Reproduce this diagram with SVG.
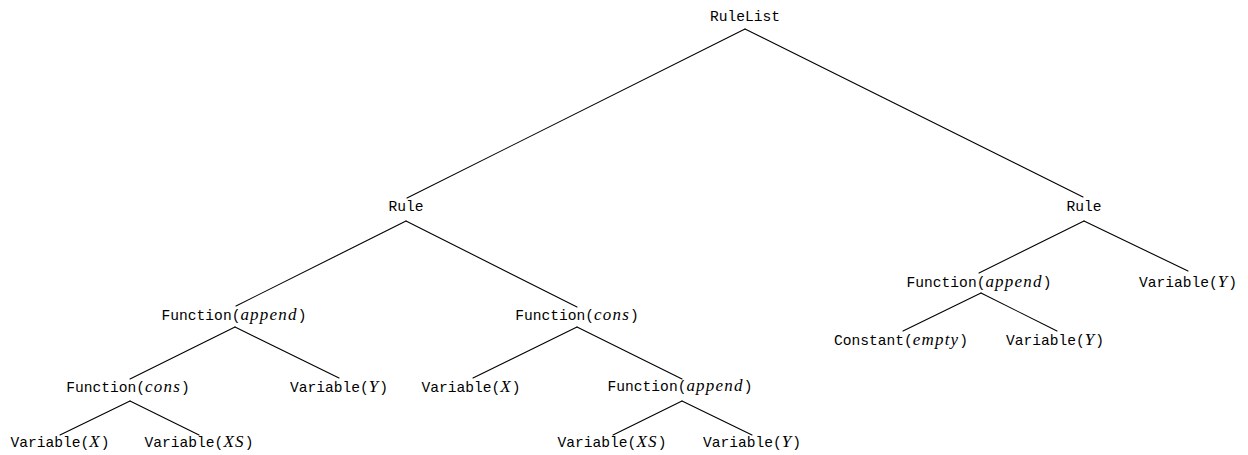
<svg xmlns="http://www.w3.org/2000/svg" width="1248" height="455" viewBox="0 0 1248 455">
  <style>
    .lbl { font-family: "Liberation Mono", "Courier New", monospace; font-size: 14.6px; fill: #000; text-anchor: middle; }
    .m { font-family: "Liberation Serif", "Times New Roman", serif; font-style: italic; font-size: 17px; letter-spacing: 1.2px; }
    .edge { stroke: #000; stroke-width: 1.1; fill: none; stroke-linecap: round; }
  </style>
  <rect width="1248" height="455" fill="#fff"/>

  <!-- tree edges: parent bottom to child top -->
  <g id="edges">
    <line class="edge" x1="745" y1="29" x2="407" y2="198"/>
    <line class="edge" x1="745" y1="29" x2="1083" y2="197"/>
    <line class="edge" x1="406" y1="221" x2="236" y2="306"/>
    <line class="edge" x1="406" y1="221" x2="577" y2="307"/>
    <line class="edge" x1="1084" y1="221" x2="979" y2="273"/>
    <line class="edge" x1="1084" y1="221" x2="1188" y2="271"/>
    <line class="edge" x1="235" y1="327" x2="130" y2="379"/>
    <line class="edge" x1="235" y1="327" x2="339" y2="378"/>
    <line class="edge" x1="577" y1="327" x2="473" y2="378"/>
    <line class="edge" x1="577" y1="327" x2="682" y2="379"/>
    <line class="edge" x1="130" y1="401" x2="60" y2="435"/>
    <line class="edge" x1="130" y1="401" x2="199" y2="435"/>
    <line class="edge" x1="682" y1="401" x2="613" y2="435"/>
    <line class="edge" x1="682" y1="401" x2="752" y2="435"/>
    <line class="edge" x1="981" y1="293" x2="903" y2="331"/>
    <line class="edge" x1="981" y1="293" x2="1057" y2="331"/>
  </g>

  <g id="n-rulelist"><text class="lbl" x="745" y="21">RuleList</text></g>
  <g id="n-rule-1"><text class="lbl" x="406" y="211">Rule</text></g>
  <g id="n-rule-2"><text class="lbl" x="1084" y="211">Rule</text></g>

  <g id="n-fn-append-1"><text class="lbl" x="234" y="320">Function(<tspan class="m">append</tspan>)</text></g>
  <g id="n-fn-cons-1"><text class="lbl" x="577" y="320">Function(<tspan class="m">cons</tspan>)</text></g>
  <g id="n-fn-cons-2"><text class="lbl" x="128" y="392">Function(<tspan class="m">cons</tspan>)</text></g>
  <g id="n-var-y-1"><text class="lbl" x="339" y="392">Variable(<tspan class="m">Y</tspan>)</text></g>
  <g id="n-var-x-1"><text class="lbl" x="471" y="392">Variable(<tspan class="m">X</tspan>)</text></g>
  <g id="n-fn-append-2"><text class="lbl" x="680" y="391">Function(<tspan class="m">append</tspan>)</text></g>
  <g id="n-var-x-2"><text class="lbl" x="60" y="447">Variable(<tspan class="m">X</tspan>)</text></g>
  <g id="n-var-xs-1"><text class="lbl" x="199" y="447">Variable(<tspan class="m">XS</tspan>)</text></g>
  <g id="n-var-xs-2"><text class="lbl" x="612" y="447">Variable(<tspan class="m">XS</tspan>)</text></g>
  <g id="n-var-y-2"><text class="lbl" x="752" y="447">Variable(<tspan class="m">Y</tspan>)</text></g>

  <g id="n-fn-append-3"><text class="lbl" x="979" y="287">Function(<tspan class="m">append</tspan>)</text></g>
  <g id="n-var-y-3"><text class="lbl" x="1188" y="287">Variable(<tspan class="m">Y</tspan>)</text></g>
  <g id="n-const-empty"><text class="lbl" x="901" y="345">Constant(<tspan class="m">empty</tspan>)</text></g>
  <g id="n-var-y-4"><text class="lbl" x="1055" y="345">Variable(<tspan class="m">Y</tspan>)</text></g>
</svg>
